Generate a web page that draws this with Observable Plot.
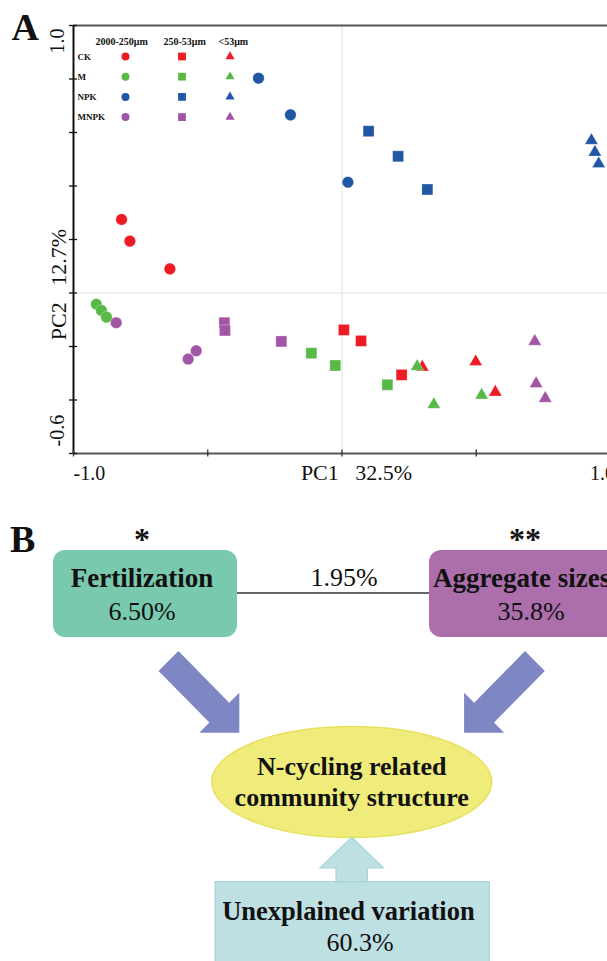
<!DOCTYPE html>
<html><head><meta charset="utf-8">
<script src="https://cdn.jsdelivr.net/npm/d3@7"></script>
<script src="https://cdn.jsdelivr.net/npm/@observablehq/plot@0.6"></script>
<style>
html,body{margin:0;padding:0;background:#fff;}
#wrap{position:relative;width:607px;height:961px;overflow:hidden;background:#fff;}
#panelA{position:absolute;left:0;top:0;}
#panelB{position:absolute;left:0;top:490px;font-family:"Liberation Serif","Times New Roman",serif;}
</style></head>
<body><div id="wrap"><div id="panelA"></div><svg id="panelB" width="607" height="471"></svg></div>
<script>
// ---- Panel A data ----
const treatments = ["CK", "M", "NPK", "MNPK"];
const sizeClasses = ["2000-250μm", "250-53μm", "<53μm"];
const treatmentColors = ["#ed1c24", "#58b947", "#2156a5", "#a056a5"];
// each list: 3 x 2000-250μm, 3 x 250-53μm, 3 x <53μm
const pc1CK = [-0.821, -0.790, -0.641, 0.007, 0.071, 0.222, 0.299, 0.498, 0.571];
const pc2CK = [0.275, 0.194, 0.090, -0.138, -0.179, -0.306, -0.277, -0.257, -0.371];
const pc1M = [-0.915, -0.896, -0.877, -0.114, -0.025, 0.169, 0.280, 0.342, 0.520];
const pc2M = [-0.042, -0.065, -0.090, -0.225, -0.271, -0.343, -0.275, -0.417, -0.382];
const pc1NPK = [-0.311, -0.192, 0.022, 0.099, 0.209, 0.318, 0.929, 0.942, 0.956];
const pc2NPK = [0.803, 0.666, 0.414, 0.605, 0.511, 0.387, 0.570, 0.526, 0.483];
const pc1MNPK = [-0.841, -0.543, -0.573, -0.438, -0.436, -0.226, 0.718, 0.723, 0.757];
const pc2MNPK = [-0.111, -0.216, -0.247, -0.111, -0.140, -0.181, -0.181, -0.339, -0.394];
const xTicks = [-1, -0.5, 0, 0.5, 1];
const yTicks = [-0.6, -0.4, -0.2, 0, 0.2, 0.4, 0.6, 0.8, 1.0];
const xTickLabels = ["-1.0", "1.0"];
const yTickLabels = ["1.0", "-0.6"];
const xTitle = "PC1\u00a0\u00a0\u00a032.5%";
const yTitle = "PC2\u00a0\u00a0\u00a012.7%";

// ---- Panel B data ----
const factorNames = ["Fertilization", "Aggregate sizes"];
const factorValues = ["6.50%", "35.8%"];
const factorStars = ["*", "**"];
const sharedValue = "1.95%";
const responseLines = ["N-cycling related", "community structure"];
const unexplainedName = "Unexplained variation";
const unexplainedValue = "60.3%";

const pc1 = {CK: pc1CK, M: pc1M, NPK: pc1NPK, MNPK: pc1MNPK};
const pc2 = {CK: pc2CK, M: pc2M, NPK: pc2NPK, MNPK: pc2MNPK};
const points = treatments.flatMap(t => pc1[t].map((v, i) => ({
  treatment: t, size: sizeClasses[Math.floor(i / 3)], pc1: v, pc2: pc2[t][i]
})));

const symbols = ["circle", "square", "triangle"];
const symR = [5.8, 6.2, 4.9];
const legR = [4, 4.4, 3.4];
const legDx = [52, 108.5, 156.5];
const headDx = [22, 90, 145];
const font = "'Liberation Serif', 'Times New Roman', serif";

const marks = [
  Plot.ruleX([0], {stroke: "#e4e4e4", strokeWidth: 1.2}),
  Plot.ruleY([0], {stroke: "#e4e4e4", strokeWidth: 1.2}),
  Plot.ruleY([1.0], {stroke: "#555", strokeWidth: 2}),
  Plot.ruleY([-0.6], {stroke: "#555", strokeWidth: 2}),
  Plot.ruleX([-1], {stroke: "#111", strokeWidth: 2}),
  Plot.axisY({ticks: yTicks, tickSize: 8, dx: 4, tickFormat: () => "", label: null, stroke: "#111", strokeWidth: 1.3}),
  Plot.axisX({ticks: xTicks, tickSize: 7, dy: -3.5, tickFormat: () => "", label: null, stroke: "#333", strokeWidth: 1.3}),
  // x tick labels
  Plot.text([xTickLabels[0]], {x: () => -1, frameAnchor: "bottom", text: d => d, textAnchor: "start", lineAnchor: "bottom", dy: 26, fontSize: 20, fill: "#111"}),
  Plot.text([xTickLabels[1]], {x: () => 1, frameAnchor: "bottom", text: d => d, textAnchor: "middle", lineAnchor: "bottom", dx: -8, dy: 26, fontSize: 20, fill: "#111"}),
  Plot.text([xTitle], {frameAnchor: "bottom", text: d => d, textAnchor: "middle", lineAnchor: "bottom", dx: 16, dy: 26, fontSize: 22, fill: "#111"}),
  // y tick labels (rotated)
  Plot.text([yTickLabels[0]], {y: () => 1.0, frameAnchor: "left", text: d => d, rotate: -90, textAnchor: "end", lineAnchor: "bottom", dx: -10, dy: 3, fontSize: 20, fill: "#111"}),
  Plot.text([yTickLabels[1]], {y: () => -0.6, frameAnchor: "left", text: d => d, rotate: -90, textAnchor: "start", lineAnchor: "bottom", dx: -10, dy: -7, fontSize: 20, fill: "#111"}),
  Plot.text([yTitle], {frameAnchor: "left", text: d => d, rotate: -90, textAnchor: "middle", lineAnchor: "bottom", dx: -8, dy: 45, fontSize: 22, fill: "#111"}),
  // panel letter
  Plot.text(["A"], {frameAnchor: "top-left", text: d => d, textAnchor: "start", lineAnchor: "bottom", dx: -62, dy: 14, fontSize: 38, fontWeight: "bold", fill: "#111"}),
  // points
  ...symbols.map((s, k) => Plot.dot(points.filter(d => d.size === sizeClasses[k]), {
    x: "pc1", y: "pc2", fill: "treatment", symbol: () => s, r: symR[k], stroke: "white", strokeWidth: 0.5, strokeOpacity: 0.6
  })),
  // legend header
  ...sizeClasses.map((s, k) => Plot.text([s], {frameAnchor: "top-left", text: d => d, textAnchor: "start", lineAnchor: "bottom", dx: headDx[k], dy: 19, fontSize: 10, fontWeight: "bold", fill: "#111"})),
  // legend rows
  ...treatments.flatMap((t, i) => [
    Plot.text([t], {frameAnchor: "top-left", text: d => d, textAnchor: "start", lineAnchor: "bottom", dx: 4, dy: 34.2 + 20.2 * i, fontSize: 9, fontWeight: "bold", fill: "#111"}),
    ...symbols.map((s, k) => Plot.dot([t], {frameAnchor: "top-left", dx: legDx[k], dy: 31 + 20.2 * i, symbol: () => s, r: legR[k], fill: treatmentColors[i]}))
  ])
];

const chart = Plot.plot({
  width: 607, height: 490,
  marginTop: 25, marginLeft: 73, marginRight: 0, marginBottom: 37,
  style: {fontFamily: font, background: "white", overflow: "visible"},
  x: {domain: [-1, 1], range: [73, 610], label: null},
  y: {domain: [-0.6, 1.0], range: [453, 25], label: null},
  color: {domain: treatments, range: treatmentColors},
  marks
});
document.getElementById("panelA").appendChild(chart);

// ---- Panel B diagram ----
const svg = d3.select("#panelB");
const g = svg.append("g").attr("transform", "translate(0,-490)").attr("font-family", font);
const txt = (x, y, s, size, bold, anchor) => g.append("text")
  .attr("x", x).attr("y", y).attr("text-anchor", anchor || "middle")
  .attr("font-family", font).attr("font-size", size)
  .attr("font-weight", bold ? "bold" : "normal").attr("fill", "#111").text(s);

txt(10, 552, "B", 38, true, "start");

// connecting line
g.append("line").attr("x1", 237).attr("x2", 430).attr("y1", 593).attr("y2", 593).attr("stroke", "#666").attr("stroke-width", 2);
txt(344, 586, sharedValue, 26, false);

// factor boxes
const boxes = [
  {x: 53, w: 184, fill: "#79c9ae", cx: 142, starX: 142, nameAnchor: "middle", nameX: 142},
  {x: 429, w: 200, fill: "#ac6fac", cx: 531, starX: 525, nameAnchor: "start", nameX: 433}
];
boxes.forEach((b, i) => {
  g.append("rect").attr("x", b.x).attr("y", 550).attr("width", b.w).attr("height", 87).attr("rx", 12).attr("fill", b.fill);
  txt(b.nameX, 587, factorNames[i], 27, true, b.nameAnchor);
  txt(b.cx, 620, factorValues[i], 26, false);
  txt(b.starX, 550, factorStars[i], 32, true);
});

// diagonal arrows
const leftArrow = [[178.4, 651.1], [229.2, 702.8], [239.3, 692.7], [239.3, 732.7], [199.3, 732.7], [209.4, 722.6], [158.6, 670.9]];
const mirrorX = 351.7;
const rightArrow = leftArrow.map(([x, y]) => [2 * mirrorX - x, y]);
[leftArrow, rightArrow].forEach(pts => {
  g.append("polygon").attr("points", pts.map(p => p.join(",")).join(" ")).attr("fill", "#7e86c4");
});

// ellipse
g.append("ellipse").attr("cx", 351.7).attr("cy", 782).attr("rx", 140).attr("ry", 55.5).attr("fill", "#efec7b").attr("stroke", "#e6e15c").attr("stroke-width", 1.5);
responseLines.forEach((t, i) => txt(351.7, 775 + 31 * i, t, 26, true));

// up arrow + unexplained box
const upArrow = [[351.7, 837.3], [383.4, 868], [367.4, 868], [367.4, 882], [336, 882], [336, 868], [320, 868]];
g.append("polygon").attr("points", upArrow.map(p => p.join(",")).join(" ")).attr("fill", "#bee0e3").attr("stroke", "#a7d5d9").attr("stroke-width", 1.2);
g.append("rect").attr("x", 215).attr("y", 881.7).attr("width", 274.3).attr("height", 100).attr("fill", "#bee0e3").attr("stroke", "#a7d5d9").attr("stroke-width", 1.2);
txt(348.4, 920, unexplainedName, 26.5, true);
txt(360, 951, unexplainedValue, 26, false);
</script>
</body></html>
